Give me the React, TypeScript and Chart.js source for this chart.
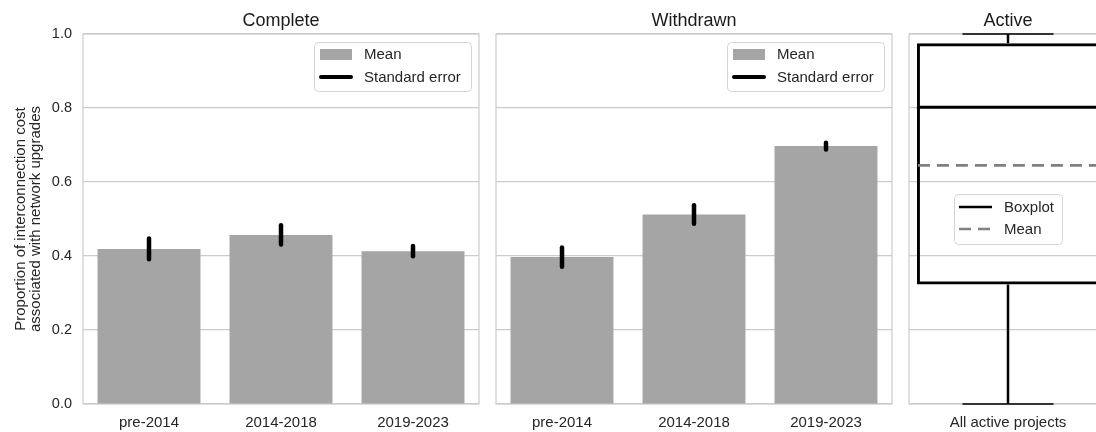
import React, { useEffect, useRef } from 'react';
import { Chart, registerables } from 'chart.js';
Chart.register(...registerables);

const FONT = '"Liberation Sans", Arial, Helvetica, sans-serif';
const TEXT = '#262626';
const GRID = '#cccccc';
const BAR = '#a5a5a5';

// ---- data ----
const categories = ['pre-2014', '2014-2018', '2019-2023'];
const completeMean = [0.419, 0.457, 0.413];
const completeSE = [0.028, 0.026, 0.014];
const withdrawnMean = [0.397, 0.512, 0.697];
const withdrawnSE = [0.026, 0.025, 0.009];

const activeCategories = ['All active projects'];
const activeMin = [0.0];
const activeQ1 = [0.323];
const activeMedian = [0.802];
const activeQ3 = [0.975];
const activeMax = [1.0];
const activeMean = [0.645];

const yTicks = [0, 0.2, 0.4, 0.6, 0.8, 1.0];
const yTitleLines = ['Proportion of interconnection cost', 'associated with network upgrades'];
const panelTitles = ['Complete', 'Withdrawn', 'Active'];
const barLegendLabels = ['Mean', 'Standard error'];
const boxLegendLabels = ['Boxplot', 'Mean'];

// ---- helpers ----
function yScale(showLabels: boolean) {
  return {
    min: 0,
    max: 1,
    afterBuildTicks: (s: any) => {
      s.ticks = yTicks.map((v) => ({ value: v }));
    },
    grid: { color: GRID, lineWidth: 1.2, drawTicks: false },
    border: { display: false },
    ticks: {
      display: showLabels,
      padding: 11,
      font: { family: FONT, size: 14.5 },
      color: TEXT,
      callback: (v: any) => Number(v).toFixed(1),
    },
    title: showLabels
      ? {
          display: true,
          text: yTitleLines,
          font: { family: FONT, size: 15, lineHeight: 1.0 },
          color: TEXT,
          padding: { top: 13, bottom: 0 },
        }
      : { display: false },
    afterFit: (s: any) => {
      s.width = showLabels ? 83 : 0;
    },
  };
}

function xScale() {
  return {
    grid: { display: false, drawTicks: false },
    border: { display: false },
    ticks: { font: { family: FONT, size: 15 }, color: TEXT, padding: 10 },
    afterFit: (s: any) => {
      s.height = 28;
    },
  };
}

function roundRect(ctx: CanvasRenderingContext2D, x: number, y: number, w: number, h: number, r: number) {
  ctx.beginPath();
  ctx.moveTo(x + r, y);
  ctx.lineTo(x + w - r, y);
  ctx.arcTo(x + w, y, x + w, y + r, r);
  ctx.lineTo(x + w, y + h - r);
  ctx.arcTo(x + w, y + h, x + w - r, y + h, r);
  ctx.lineTo(x + r, y + h);
  ctx.arcTo(x, y + h, x, y + h - r, r);
  ctx.lineTo(x, y + r);
  ctx.arcTo(x, y, x + r, y, r);
  ctx.closePath();
}

function framePlugin(title: string) {
  return {
    id: 'frame_' + title,
    beforeDatasetsDraw(chart: any) {
      const { ctx, chartArea: a } = chart;
      ctx.save();
      ctx.strokeStyle = GRID;
      ctx.lineWidth = 1.2;
      ctx.strokeRect(a.left, a.top, a.right - a.left, a.bottom - a.top);
      ctx.restore();
    },
    afterDraw(chart: any) {
      const { ctx, chartArea: a } = chart;
      ctx.save();
      ctx.fillStyle = '#1a1a1a';
      ctx.font = `18px ${FONT}`;
      ctx.textAlign = 'center';
      ctx.textBaseline = 'alphabetic';
      ctx.fillText(title, (a.left + a.right) / 2, 26);
      ctx.restore();
    },
  };
}

function errorBarPlugin(means: number[], ses: number[]) {
  return {
    id: 'errbars',
    afterDatasetsDraw(chart: any) {
      const { ctx } = chart;
      const xs = chart.scales.x;
      const ys = chart.scales.y;
      ctx.save();
      ctx.strokeStyle = '#000';
      ctx.lineWidth = 4.5;
      ctx.lineCap = 'round';
      means.forEach((m, i) => {
        const x = xs.getPixelForValue(i);
        ctx.beginPath();
        ctx.moveTo(x, ys.getPixelForValue(m - ses[i]));
        ctx.lineTo(x, ys.getPixelForValue(m + ses[i]));
        ctx.stroke();
      });
      ctx.restore();
    },
    afterDraw(chart: any) {
      const { ctx, chartArea: a } = chart;
      const w = 157;
      const h = 49;
      const x = a.right - 8 - w;
      const y = a.top + 8;
      ctx.save();
      roundRect(ctx, x + 0.5, y + 0.5, w, h, 4);
      ctx.fillStyle = 'rgba(255,255,255,0.85)';
      ctx.fill();
      ctx.strokeStyle = '#d4d4d4';
      ctx.lineWidth = 1;
      ctx.stroke();
      ctx.fillStyle = BAR;
      ctx.fillRect(x + 6, y + 7, 32, 11);
      ctx.strokeStyle = '#000';
      ctx.lineWidth = 4;
      ctx.lineCap = 'round';
      ctx.beginPath();
      ctx.moveTo(x + 7, y + 35);
      ctx.lineTo(x + 37, y + 35);
      ctx.stroke();
      ctx.fillStyle = TEXT;
      ctx.font = `15px ${FONT}`;
      ctx.textAlign = 'left';
      ctx.textBaseline = 'middle';
      ctx.fillText(barLegendLabels[0], x + 50, y + 13);
      ctx.fillText(barLegendLabels[1], x + 50, y + 36);
      ctx.restore();
    },
  };
}

const boxPlugin = {
  id: 'boxparts',
  afterDatasetsDraw(chart: any) {
    const { ctx } = chart;
    const ys = chart.scales.y;
    const meta = chart.getDatasetMeta(0);
    ctx.save();
    meta.data.forEach((el: any, i: number) => {
      const { x, width } = el.getProps(['x', 'width'], true);
      const half = width / 2;
      const yMin = ys.getPixelForValue(activeMin[i]);
      const yQ1 = ys.getPixelForValue(activeQ1[i]);
      const yMed = ys.getPixelForValue(activeMedian[i]);
      const yQ3 = ys.getPixelForValue(activeQ3[i]);
      const yMax = ys.getPixelForValue(activeMax[i]);
      const yMean = ys.getPixelForValue(activeMean[i]);
      ctx.strokeStyle = '#000';
      // whiskers
      ctx.lineWidth = 2.5;
      ctx.beginPath();
      ctx.moveTo(x, yQ1);
      ctx.lineTo(x, yMin);
      ctx.moveTo(x, yQ3);
      ctx.lineTo(x, yMax);
      ctx.stroke();
      // caps
      ctx.lineWidth = 1.6;
      ctx.beginPath();
      ctx.moveTo(x - half / 2, yMin);
      ctx.lineTo(x + half / 2, yMin);
      ctx.moveTo(x - half / 2, yMax);
      ctx.lineTo(x + half / 2, yMax);
      ctx.stroke();
      // median
      ctx.lineWidth = 2.8;
      ctx.beginPath();
      ctx.moveTo(x - half, yMed);
      ctx.lineTo(x + half, yMed);
      ctx.stroke();
      // mean
      ctx.strokeStyle = '#808080';
      ctx.lineWidth = 2.6;
      ctx.setLineDash([12, 7]);
      ctx.beginPath();
      ctx.moveTo(x - half + 1, yMean);
      ctx.lineTo(x + half, yMean);
      ctx.stroke();
      ctx.setLineDash([]);
    });
    ctx.restore();
  },
  afterDraw(chart: any) {
    const { ctx, chartArea: a } = chart;
    const w = 108;
    const h = 50;
    const cx = (a.left + a.right) / 2;
    const cy = (a.top + a.bottom) / 2;
    const x = cx - w / 2;
    const y = cy - h / 2;
    ctx.save();
    roundRect(ctx, x + 0.5, y + 0.5, w, h, 4);
    ctx.fillStyle = 'rgba(255,255,255,0.85)';
    ctx.fill();
    ctx.strokeStyle = '#d4d4d4';
    ctx.lineWidth = 1;
    ctx.stroke();
    ctx.strokeStyle = '#000';
    ctx.lineWidth = 2.6;
    ctx.beginPath();
    ctx.moveTo(x + 5, y + 13);
    ctx.lineTo(x + 38, y + 13);
    ctx.stroke();
    ctx.strokeStyle = '#808080';
    ctx.setLineDash([12, 7]);
    ctx.beginPath();
    ctx.moveTo(x + 5, y + 35);
    ctx.lineTo(x + 38, y + 35);
    ctx.stroke();
    ctx.setLineDash([]);
    ctx.fillStyle = TEXT;
    ctx.font = `15px ${FONT}`;
    ctx.textAlign = 'left';
    ctx.textBaseline = 'middle';
    ctx.fillText(boxLegendLabels[0], x + 50, y + 14);
    ctx.fillText(boxLegendLabels[1], x + 50, y + 36);
    ctx.restore();
  },
};

function buildBarConfig(title: string, means: number[], ses: number[], showY: boolean, padding: any) {
  return {
    type: 'bar',
    data: {
      labels: categories,
      datasets: [
        {
          label: 'Mean',
          data: means,
          backgroundColor: BAR,
          borderWidth: 0,
          barPercentage: 0.78,
          categoryPercentage: 1,
        },
      ],
    },
    options: {
      responsive: false,
      animation: false,
      devicePixelRatio: 1,
      layout: { padding },
      plugins: { legend: { display: false }, tooltip: { enabled: false }, title: { display: false } },
      scales: { x: xScale(), y: yScale(showY) },
    },
    plugins: [framePlugin(title), errorBarPlugin(means, ses)],
  };
}

function buildBoxConfig(padding: any) {
  return {
    type: 'bar',
    data: {
      labels: activeCategories,
      datasets: [
        {
          label: 'Boxplot',
          data: activeQ1.map((q, i) => [q, activeQ3[i]]),
          backgroundColor: 'rgba(0,0,0,0)',
          borderColor: '#000',
          borderWidth: 3,
          borderSkipped: false,
          barPercentage: 0.92,
          categoryPercentage: 1,
        },
      ],
    },
    options: {
      responsive: false,
      animation: false,
      devicePixelRatio: 1,
      layout: { padding },
      plugins: { legend: { display: false }, tooltip: { enabled: false }, title: { display: false } },
      scales: { x: xScale(), y: yScale(false) },
    },
    plugins: [framePlugin(panelTitles[2]), boxPlugin],
  };
}

function Panel({ left, width, config }: { left: number; width: number; config: () => any }) {
  const ref = useRef<HTMLCanvasElement | null>(null);
  useEffect(() => {
    if (!ref.current) return;
    const chart = new Chart(ref.current, config());
    return () => chart.destroy();
  }, []);
  return (
    <canvas
      ref={ref}
      width={width}
      height={432}
      style={{ position: 'absolute', left, top: 0, width, height: 432, display: 'block' }}
    />
  );
}

export default function App() {
  return (
    <div
      style={{
        position: 'fixed',
        left: 0,
        top: 0,
        width: 1096,
        height: 432,
        overflow: 'hidden',
        background: '#ffffff',
      }}
    >
      <Panel
        left={0}
        width={488}
        config={() => buildBarConfig(panelTitles[0], completeMean, completeSE, true, { left: 0, right: 9, top: 34, bottom: 0 })}
      />
      <Panel
        left={488}
        width={408}
        config={() => buildBarConfig(panelTitles[1], withdrawnMean, withdrawnSE, false, { left: 8, right: 4, top: 34, bottom: 0 })}
      />
      <Panel left={896} width={216} config={() => buildBoxConfig({ left: 13, right: 5, top: 34, bottom: 0 })} />
    </div>
  );
}
